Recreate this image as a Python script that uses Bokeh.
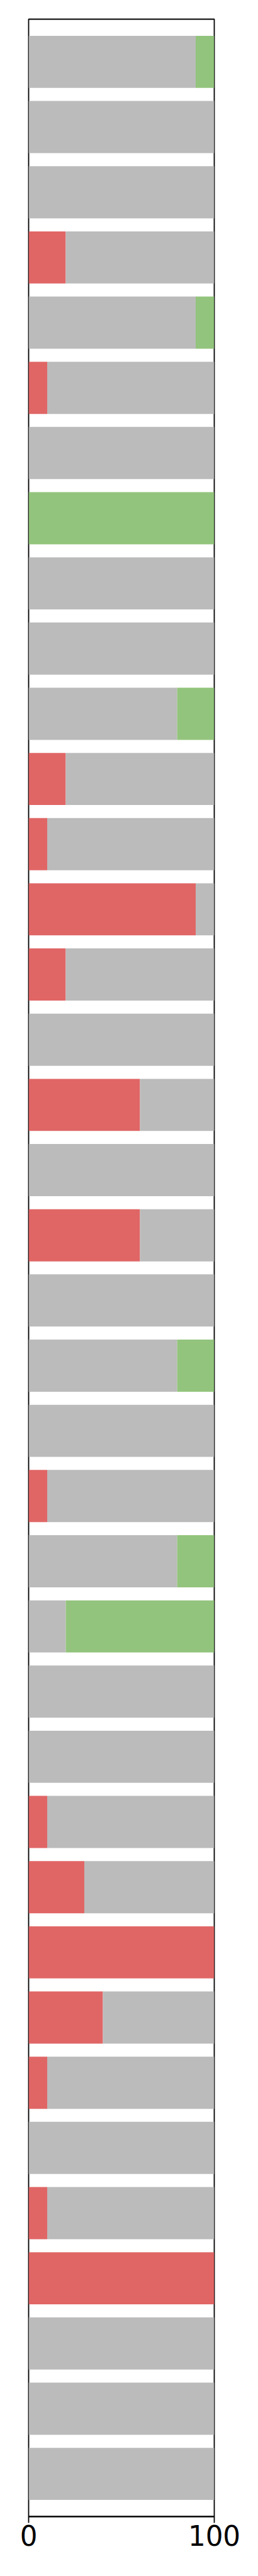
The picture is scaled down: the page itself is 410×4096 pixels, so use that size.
from bokeh.plotting import figure
from bokeh.models import Range1d, FixedTicker, ColumnDataSource
from bokeh.embed import file_html
from bokeh.resources import INLINE

# Data: one row per bar, top to bottom
rows = list(range(38))
red_vals = [0, 0, 0, 20, 0, 10, 0, 0, 0, 0,
            0, 20, 10, 90, 20, 0, 60, 0, 60, 0,
            0, 0, 10, 0, 0, 0, 0, 10, 30, 100,
            40, 10, 0, 10, 100, 0, 0, 0]
green_vals = [10, 0, 0, 0, 10, 0, 0, 100, 0, 0,
              20, 0, 0, 0, 0, 0, 0, 0, 0, 0,
              20, 0, 0, 20, 80, 0, 0, 0, 0, 0,
              0, 0, 0, 0, 0, 0, 0, 0]
total = 100
x_ticks = [0, 100]

RED = "#e06666"
GREY = "#bbbbbb"
GREEN = "#93c47d"

n = len(rows)
src = ColumnDataSource(dict(
    y=rows,
    zero=[0] * n,
    red=red_vals,
    grey_right=[total - g for g in green_vals],
    total=[total] * n,
))

p = figure(width=410, height=4096, output_backend="svg", toolbar_location=None,
           x_range=Range1d(0, 100), y_range=Range1d(n - 1 + 0.655, -0.655),
           y_axis_location=None,
           min_border_left=45, min_border_right=70,
           min_border_top=30, min_border_bottom=95)

p.hbar(y="y", left="zero", right="red", height=0.8, source=src,
       fill_color=RED, line_color=None)
p.hbar(y="y", left="red", right="grey_right", height=0.8, source=src,
       fill_color=GREY, line_color=None)
p.hbar(y="y", left="grey_right", right="total", height=0.8, source=src,
       fill_color=GREEN, line_color=None)

p.xgrid.visible = False
p.ygrid.visible = False
p.outline_line_color = "black"
p.outline_line_width = 1.8
p.outline_line_alpha = 1.0
p.background_fill_color = "white"
p.border_fill_color = "white"

ax = p.xaxis[0]
ax.ticker = FixedTicker(ticks=x_ticks)
ax.minor_tick_line_color = None
ax.major_tick_in = 0
ax.major_tick_out = 10
ax.major_tick_line_width = 1.8
ax.major_tick_line_color = "black"
ax.axis_line_width = 1.8
ax.axis_line_color = "black"
ax.major_label_text_font = "DejaVu Sans"
ax.major_label_text_font_size = "43.6px"
ax.major_label_text_color = "black"
ax.major_label_standoff = 3

open("out.html", "w").write(file_html(p, INLINE))
